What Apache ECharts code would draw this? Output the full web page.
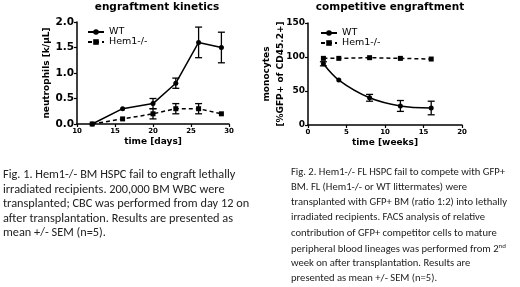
<!DOCTYPE html>
<html>
<head>
<meta charset="utf-8">
<script src="https://cdn.jsdelivr.net/npm/echarts@6/dist/echarts.min.js"></script>
<style>
  html, body { margin: 0; padding: 0; background: #fff; }
  #chart { width: 520px; height: 287px; }
</style>
</head>
<body>
<div id="chart"></div>
<script>
  // Fig 1: neutrophils [k/uL] over days
  var days = [12, 16, 20, 23, 26, 29];
  var wtNeut = [0.0, 0.3, 0.4, 0.8, 1.6, 1.5];
  var wtNeutErr = [0.0, 0.0, 0.1, 0.1, 0.3, 0.3];
  var hemNeut = [0.0, 0.1, 0.2, 0.3, 0.3, 0.2];
  var hemNeutErr = [0.0, 0.0, 0.1, 0.1, 0.1, 0.0];

  // Fig 2: monocytes [%GFP+ of CD45.2+] over weeks
  var weeks = [2, 4, 8, 12, 16];
  var wtMono = [90, 66, 40, 28, 25];
  var wtMonoErr = [3, 0, 5, 8, 10];
  var hemMono = [98, 98, 99, 98, 97];
  var hemMonoErr = [0, 0, 0, 0, 0];

  var caption1 = [
    'Fig. 1. Hem1-/- BM HSPC fail to engraft lethally',
    'irradiated recipients. 200,000 BM WBC were',
    'transplanted; CBC was performed from day 12 on',
    'after transplantation. Results are presented as',
    'mean +/- SEM (n=5).'
  ];
  var caption2 = [
    'Fig. 2. Hem1-/- FL HSPC fail to compete with GFP+',
    'BM. FL (Hem1-/- or WT littermates) were',
    'transplanted with GFP+ BM (ratio 1:2) into lethally',
    'irradiated recipients. FACS analysis of relative',
    'contribution of GFP+ competitor cells to mature',
    'peripheral blood lineages was performed from 2{sup|nd}',
    'week on after transplantation. Results are',
    'presented as mean +/- SEM (n=5).'
  ];

  function pairs(xs, ys) {
    return xs.map(function (x, i) { return [x, ys[i]]; });
  }
  function errData(xs, ys, es) {
    return xs.map(function (x, i) { return [x, ys[i] - es[i], ys[i] + es[i]]; });
  }

  function errorBars(xi, yi, data) {
    return {
      type: 'custom',
      xAxisIndex: xi,
      yAxisIndex: yi,
      silent: true,
      z: 3,
      data: data,
      renderItem: function (params, api) {
        if (api.value(2) - api.value(1) <= 0) return null;
        var lo = api.coord([api.value(0), api.value(1)]);
        var hi = api.coord([api.value(0), api.value(2)]);
        var w = 3.5;
        var st = { stroke: '#000', lineWidth: 1.3 };
        return {
          type: 'group',
          children: [
            { type: 'line', shape: { x1: lo[0], y1: lo[1], x2: hi[0], y2: hi[1] }, style: st },
            { type: 'line', shape: { x1: lo[0] - w, y1: lo[1], x2: lo[0] + w, y2: lo[1] }, style: st },
            { type: 'line', shape: { x1: hi[0] - w, y1: hi[1], x2: hi[0] + w, y2: hi[1] }, style: st }
          ]
        };
      }
    };
  }

  var axisLine = { lineStyle: { color: '#000', width: 1.5 } };
  var axisTick = { length: 3, lineStyle: { color: '#000', width: 1.2 } };
  var tickFont = { color: '#000', fontFamily: 'DejaVu Sans', fontWeight: 'bold' };
  var nameFont = { color: '#000', fontFamily: 'DejaVu Sans', fontWeight: 'bold', fontSize: 9 };
  var legendFont = { fontFamily: 'DejaVu Sans', fontSize: 9.5, color: '#000' };

  var capLines = [];
  caption1.forEach(function (t, i) {
    capLines.push({
      type: 'text', left: 3, top: 169 + i * 14.6,
      style: { text: t, fill: '#222', font: '12.3px Carlito, Lato, sans-serif' }
    });
  });
  caption2.forEach(function (t, i) {
    capLines.push({
      type: 'text', left: 291, top: 167 + i * 15.1,
      style: {
        text: t, fill: '#222', font: '10.6px Carlito, Lato, sans-serif',
        rich: { sup: { fontSize: 6.5, verticalAlign: 'top', padding: [0, 0, 6, 0], fontFamily: 'Lato', fill: '#222' } }
      }
    });
  });

  var chart = echarts.init(document.getElementById('chart'));
  var option = {
    animation: false,
    backgroundColor: '#fff',
    title: [
      { text: 'engraftment kinetics', left: 152, top: -3, textAlign: 'center',
        textStyle: { fontFamily: 'DejaVu Sans', fontWeight: 'bold', fontSize: 10.5, color: '#000' } },
      { text: 'competitive engraftment', left: 385, top: -3, textAlign: 'center',
        textStyle: { fontFamily: 'DejaVu Sans', fontWeight: 'bold', fontSize: 10.5, color: '#000' } }
    ],
    legend: [
      { left: 82, top: 22, orient: 'vertical', itemGap: 0, itemWidth: 16, itemHeight: 7,
        textStyle: legendFont, data: ['WT', 'Hem1-/-'] },
      { left: 315, top: 23, orient: 'vertical', itemGap: 0, itemWidth: 16, itemHeight: 7,
        textStyle: legendFont, data: ['WT ', 'Hem1-/- '] }
    ],
    grid: [
      { left: 77, right: 291, top: 22, bottom: 163 },
      { left: 308, right: 58, top: 23, bottom: 162 }
    ],
    xAxis: [
      { gridIndex: 0, type: 'value', min: 10, max: 30, interval: 5,
        name: 'time [days]', nameLocation: 'middle', nameGap: 13, nameTextStyle: nameFont,
        axisLine: axisLine, axisTick: axisTick, splitLine: { show: false },
        axisLabel: Object.assign({ fontSize: 7, margin: 4 }, tickFont) },
      { gridIndex: 1, type: 'value', min: 0, max: 20, interval: 5,
        name: 'time [weeks]', nameLocation: 'middle', nameGap: 13, nameTextStyle: nameFont,
        axisLine: axisLine, axisTick: axisTick, splitLine: { show: false },
        axisLabel: Object.assign({ fontSize: 7, margin: 4 }, tickFont) }
    ],
    yAxis: [
      { gridIndex: 0, type: 'value', min: 0, max: 2, interval: 0.5,
        name: 'neutrophils [k/μL]', nameLocation: 'middle', nameGap: 26, nameTextStyle: nameFont,
        axisLine: Object.assign({ show: true }, axisLine), axisTick: Object.assign({ show: true }, axisTick),
        splitLine: { show: false },
        axisLabel: Object.assign({ fontSize: 10.5, margin: 3, formatter: function (v) { return v.toFixed(1); } }, tickFont) },
      { gridIndex: 1, type: 'value', min: 0, max: 150, interval: 50,
        name: 'monocytes\n[%GFP+ of CD45.2+]', nameLocation: 'middle', nameGap: 21, nameMoveOverlap: false,
        nameTextStyle: Object.assign({ lineHeight: 13.5 }, nameFont),
        axisLine: Object.assign({ show: true }, axisLine), axisTick: Object.assign({ show: true }, axisTick),
        splitLine: { show: false },
        axisLabel: Object.assign({ fontSize: 9, margin: 3 }, tickFont) }
    ],
    series: [
      { name: 'WT', type: 'line', xAxisIndex: 0, yAxisIndex: 0, data: pairs(days, wtNeut),
        symbol: 'circle', symbolSize: 5, itemStyle: { color: '#000' },
        lineStyle: { color: '#000', width: 1.5 } },
      { name: 'Hem1-/-', type: 'line', xAxisIndex: 0, yAxisIndex: 0, data: pairs(days, hemNeut),
        symbol: 'rect', symbolSize: 5, itemStyle: { color: '#000' },
        lineStyle: { color: '#000', width: 1.5, type: [4, 3] } },
      errorBars(0, 0, errData(days, wtNeut, wtNeutErr)),
      errorBars(0, 0, errData(days, hemNeut, hemNeutErr)),
      { name: 'WT ', type: 'line', xAxisIndex: 1, yAxisIndex: 1, data: pairs(weeks, wtMono),
        smooth: 0.35, symbol: 'circle', symbolSize: 5, itemStyle: { color: '#000' },
        lineStyle: { color: '#000', width: 1.5 } },
      { name: 'Hem1-/- ', type: 'line', xAxisIndex: 1, yAxisIndex: 1, data: pairs(weeks, hemMono),
        symbol: 'rect', symbolSize: 5, itemStyle: { color: '#000' },
        lineStyle: { color: '#000', width: 1.5, type: [4, 3] } },
      errorBars(1, 1, errData(weeks, wtMono, wtMonoErr)),
      errorBars(1, 1, errData(weeks, hemMono, hemMonoErr))
    ],
    graphic: capLines
  };
  chart.setOption(option);
</script>
</body>
</html>
